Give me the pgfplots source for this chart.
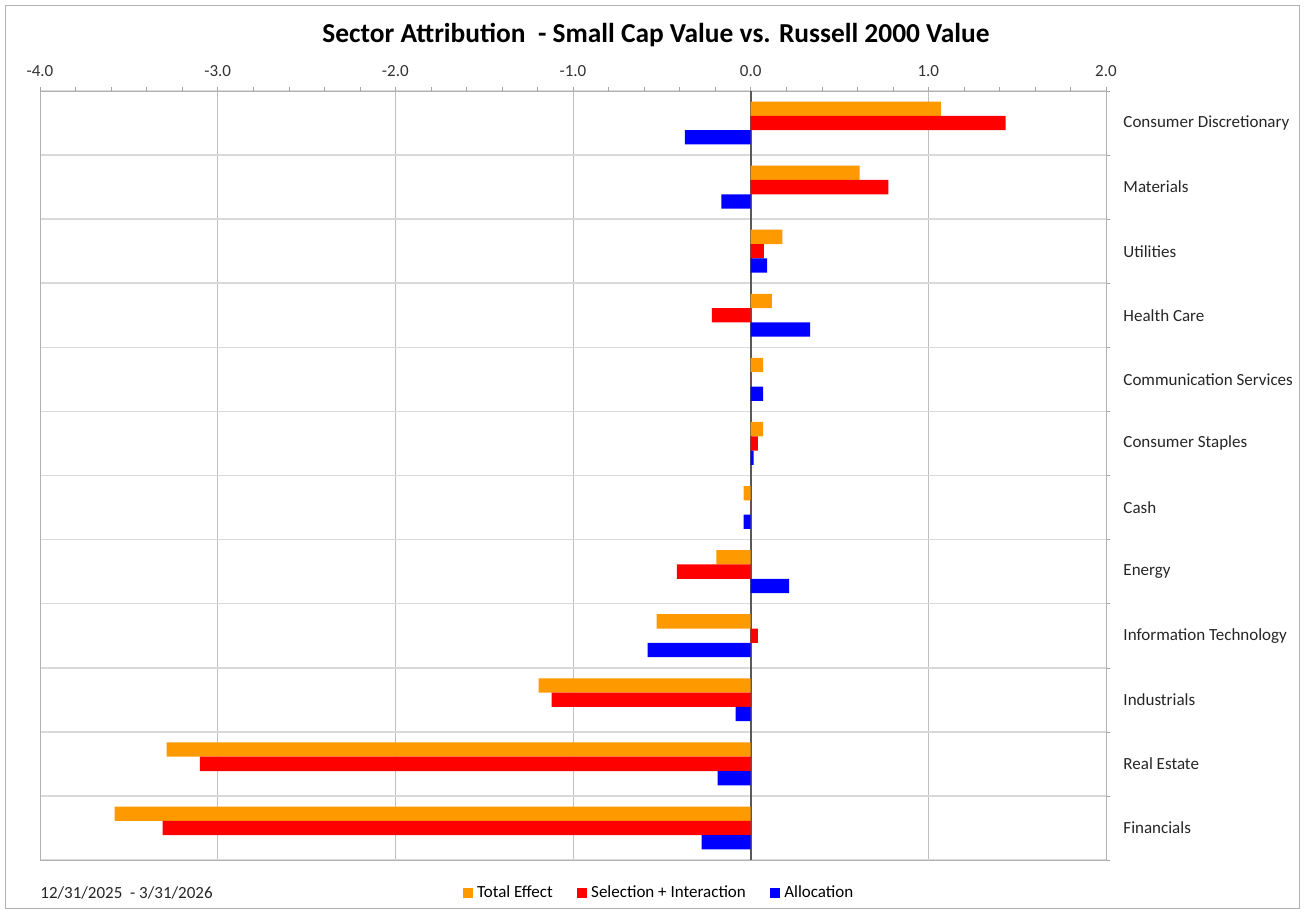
\documentclass[border=0pt]{standalone}
\usepackage{pgfplots}
\pgfplotsset{compat=1.18}
\usepackage{pgfplotstable}
\usepackage{fontspec}
\setmainfont{Carlito}

\definecolor{toteff}{HTML}{FF9900}
\definecolor{selint}{HTML}{FF0000}
\definecolor{alloc}{HTML}{0000FF}

% idx 11 = top row (Consumer Discretionary), 0 = bottom row (Financials)
\pgfplotstableread{
idx total sel alloc
11 1.07 1.435 -0.37
10 0.613 0.775 -0.165
9 0.178 0.075 0.092
8 0.12 -0.218 0.334
7 0.07 0 0.07
6 0.07 0.04 0.017
5 -0.04 0 -0.04
4 -0.193 -0.415 0.216
3 -0.53 0.04 -0.58
2 -1.194 -1.12 -0.084
1 -3.287 -3.10 -0.186
0 -3.58 -3.31 -0.276
}\sectors

\pgfplotsset{sq legend/.style={legend image code/.code={\fill[##1] (0pt,-2.6pt) rectangle (5.2pt,2.6pt);}}}

\begin{document}
\begin{tikzpicture}
\begin{axis}[
  at={(0,0)}, anchor=south west,
  scale only axis, width=533pt, height=384.5pt,
  xbar, bar width=7.15pt,
  xmin=-4, xmax=2, ymin=-0.5, ymax=11.5,
  xtick={-4,-3,-2,-1,0,1,2}, minor x tick num=4,
  xtick pos=right, xticklabel pos=right,
  xticklabel style={font=\fontsize{8.5}{10}\selectfont, text=black!80, yshift=1.5pt},
  /pgf/number format/.cd, fixed, fixed zerofill, precision=1, assume math mode=true, /pgfplots/.cd,
  ytick={0,...,11},
  yticklabels={Financials, Real Estate, Industrials, Information Technology, Energy, Cash, Consumer Staples, Communication Services, Health Care, Utilities, Materials, Consumer Discretionary},
  ytick pos=right, yticklabel pos=right,
  yticklabel style={font=\fontsize{8.5}{10}\selectfont, anchor=west, text=black!85, xshift=3pt},
  minor ytick={-0.5,0.5,...,11.5},
  every major y tick/.append style={draw=none},
  tick align=outside, major tick length=2.2pt, minor tick length=2.2pt,
  tick style={gray!70},
  axis line style={gray!60},
  xmajorgrids=true, yminorgrids=true,
  major grid style={gray!50},
  minor grid style={gray!30, line width=0.8pt},
  extra x ticks={0}, extra x tick labels={},
  extra x tick style={major grid style={black!65, line width=1pt}, tick style={draw=none}},
  legend style={at={(0.5816,-0.0429)}, anchor=center, draw=none, fill=none,
    legend columns=3, font=\fontsize{8.5}{10}\selectfont,
    /tikz/every even column/.append style={column sep=10pt},
    inner sep=0pt},
  legend cell align=left,
]
\addplot[fill=toteff, draw=none, bar shift=7.15pt, sq legend] table[x=total, y=idx] {\sectors};
\addplot[fill=selint, draw=none, bar shift=0pt, sq legend] table[x=sel, y=idx] {\sectors};
\addplot[fill=alloc, draw=none, bar shift=-7.15pt, sq legend] table[x=alloc, y=idx] {\sectors};
\legend{Total Effect, Selection + Interaction, Allocation}
\end{axis}
\node[font=\bfseries\fontsize{13.7}{16}\selectfont] at (308pt,412.5pt) {Sector Attribution \ - Small Cap Value vs. Russell 2000 Value};
\node[anchor=west, inner sep=0pt, font=\fontsize{8.5}{10}\selectfont, text=black!85] at (0pt,-16.5pt) {12/31/2025 \ - 3/31/2026};
\draw[gray!60] (-17.5pt,-24pt) rectangle (629.5pt,427.5pt);
\pgfresetboundingbox
\path[use as bounding box] (-20pt,-26.5pt) rectangle (632pt,430pt);
\end{tikzpicture}
\end{document}
